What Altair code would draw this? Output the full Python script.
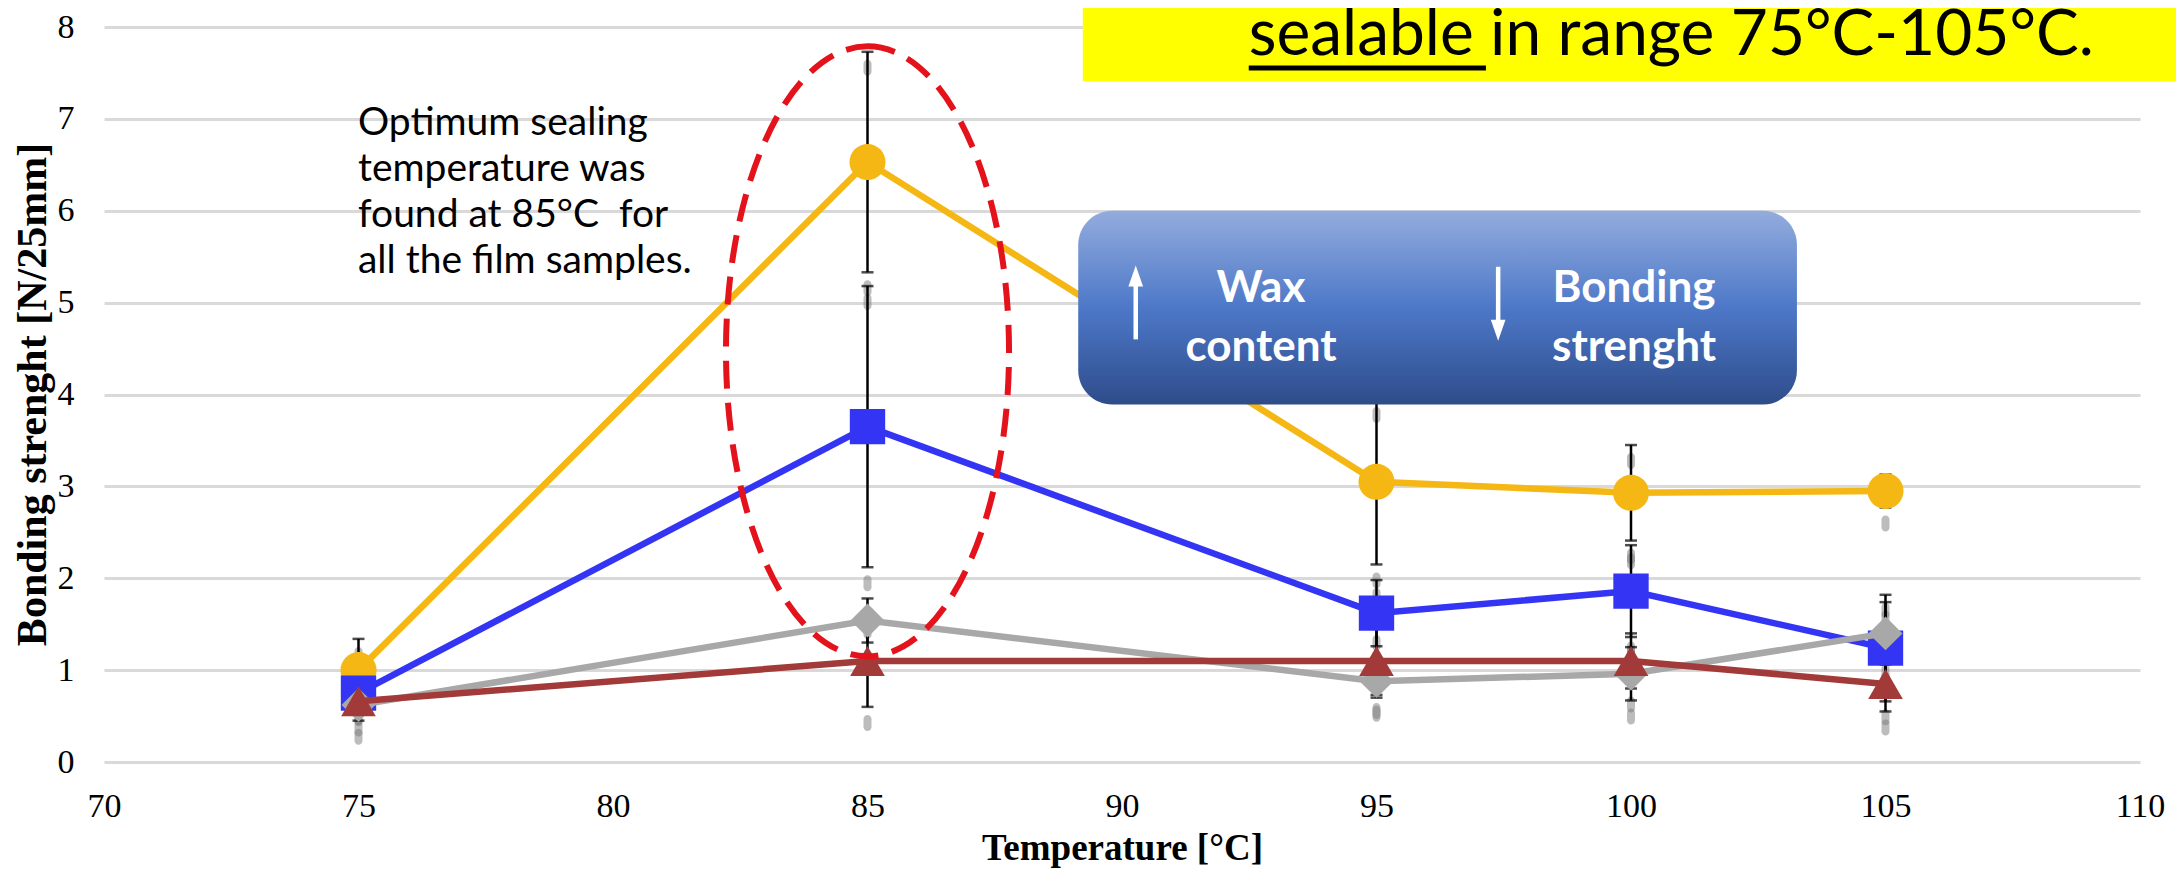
import altair as alt
import pandas as pd

# ---------------- data ----------------
temps = [75, 85, 95, 100, 105]
series_names = ["Film 1", "Film 2", "Film 3", "Film 4"]
vals_1 = [1.00, 6.53, 3.05, 2.93, 2.95]
err_1 = [0.34, 1.20, 0.90, 0.52, 0.18]
vals_2 = [0.75, 3.65, 1.62, 1.86, 1.24]
err_2 = [0.10, 1.53, 0.36, 0.50, 0.58]
vals_3 = [0.62, 1.54, 0.88, 0.96, 1.40]
err_3 = [0.17, 0.24, 0.18, 0.29, 0.34]
vals_4 = [0.66, 1.10, 1.10, 1.10, 0.85]
err_4 = [0.12, 0.50, 0.37, 0.30, 0.30]

x_ticks = [70, 75, 80, 85, 90, 95, 100, 105, 110]
y_ticks = [0, 1, 2, 3, 4, 5, 6, 7, 8]

# annotation texts
opt_lines = ["Optimum sealing", "temperature was", "found at 85\u00b0C\u00a0 for", "all the film samples."]
box_words = ["Wax", "content", "Bonding", "strenght"]
header_text = "sealable in range 75\u00b0C-105\u00b0C."

# annotation anchors (data space: temperature, strength)
box_t = [89.14, 103.26]
box_v = [3.89, 6.0]
word_t = [92.73, 92.73, 100.06, 100.06]
word_v = [5.15, 4.51, 5.15, 4.51]
arrow_up_t = [90.27]
arrow_up_v = [4.60, 5.25]
arrow_up_head_v = [5.29]
arrow_dn_t = [97.39]
arrow_dn_v = [5.39, 4.75]
arrow_dn_head_v = [4.70]
ellipse_center = [85.0, 4.47]
opt_anchor = [74.99, 6.82]
header_t = [89.23, 112.0]
header_v = [7.41, 8.7]
header_text_anchor = [92.49, 7.69]
underline_t = [92.49, 97.15]
underline_v = [7.555]

# ---------------- styles ----------------
colors = ["#F5B714", "#3434F4", "#A8A8A8", "#A23A3A"]
shapes = ["circle", "square", "diamond", "triangle-up"]
sizes = [1300, 1250, 1150, 1200]

rows = []
for name, vals, errs in zip(series_names, [vals_1, vals_2, vals_3, vals_4], [err_1, err_2, err_3, err_4]):
    for t, v, e in zip(temps, vals, errs):
        rows.append({"series": name, "temp": t, "value": v, "lo": v - e, "hi": v + e})
df = pd.DataFrame(rows)

xs = alt.Scale(domain=[70, 110], nice=False, zero=False)
ys = alt.Scale(domain=[0, 8], nice=False, zero=False)

x_axis = alt.Axis(values=x_ticks, title="Temperature [\u00b0C]", grid=False, ticks=False, domain=False,
                  labelFont="Liberation Serif", labelFontSize=34, labelPadding=27, labelColor="black",
                  labelFlush=False, labelOverlap=False,
                  titleFont="Liberation Serif", titleFontSize=37, titleFontWeight="bold", titleColor="black",
                  titleY=97, titleBaseline="alphabetic")
y_axis = alt.Axis(values=y_ticks, title="Bonding strenght [N/25mm]", grid=True, gridColor="#D9D9D9",
                  gridWidth=3, ticks=False, domain=False,
                  labelFont="Liberation Serif", labelFontSize=34, labelPadding=30, labelColor="black",
                  titleFont="Liberation Serif", titleFontSize=42, titleFontWeight="bold", titleColor="black",
                  titleX=-72, titleY=367, titleAngle=270, titleBaseline="middle", titleAlign="center")


def X(f):
    return alt.X(f, type="quantitative", scale=xs, axis=x_axis)


def Y(f):
    return alt.Y(f, type="quantitative", scale=ys, axis=y_axis)


layers = []

# soft shadows under the error-bar caps
for fld in ["lo", "hi"]:
    layers.append(alt.Chart(df).mark_tick(orient="vertical", color="#7A7A7A", size=16, thickness=8,
                                          opacity=0.5, yOffset=16, cornerRadius=4)
                  .encode(x=X("temp"), y=Y(fld)))

# error bars
layers.append(alt.Chart(df).mark_rule(color="black", strokeWidth=2.5).encode(x=X("temp"), y=Y("lo"), y2="hi"))
for fld in ["lo", "hi"]:
    layers.append(alt.Chart(df).mark_tick(orient="horizontal", color="black", size=12, thickness=2.5)
                  .encode(x=X("temp"), y=Y(fld)))

# series lines + markers
for i, name in enumerate(series_names):
    sub = df[df["series"] == name]
    layers.append(alt.Chart(sub).mark_line(color=colors[i], strokeWidth=6.5)
                  .encode(x=X("temp"), y=Y("value")))
    layers.append(alt.Chart(sub).mark_point(shape=shapes[i], filled=True, color=colors[i],
                                            size=sizes[i], opacity=1)
                  .encode(x=X("temp"), y=Y("value")))

# red dashed ellipse
ellipse_path = ("M0,-1C0.256,-1,0.464,-0.552,0.464,0C0.464,0.552,0.256,1,0,1"
                "C-0.256,1,-0.464,0.552,-0.464,0C-0.464,-0.552,-0.256,-1,0,-1Z")
ell_df = pd.DataFrame({"x": [ellipse_center[0]], "y": [ellipse_center[1]]})
layers.append(alt.Chart(ell_df).mark_point(shape=ellipse_path, size=610 * 610, filled=False,
                                           stroke="#E3121B", strokeWidth=6, strokeDash=[28, 14], opacity=1)
              .encode(x=X("x"), y=Y("y")))

# blue gradient box
box_df = pd.DataFrame({"x0": [box_t[0]], "x1": [box_t[1]], "y0": [box_v[0]], "y1": [box_v[1]]})
grad = alt.LinearGradient(gradient="linear",
                          stops=[alt.GradientStop(offset=0, color="#93ACDD"),
                                 alt.GradientStop(offset=0.5, color="#4D78C8"),
                                 alt.GradientStop(offset=1, color="#2E4C8A")],
                          x1=0, x2=0, y1=0, y2=1)
layers.append(alt.Chart(box_df).mark_rect(fill=grad, cornerRadius=34)
              .encode(x=X("x0"), x2="x1", y=Y("y0"), y2="y1"))

words_df = pd.DataFrame({"x": word_t, "y": word_v, "label": box_words})
layers.append(alt.Chart(words_df).mark_text(font="Lato", fontSize=44, fontWeight="bold", color="white",
                                            align="center", baseline="middle")
              .encode(x=X("x"), y=Y("y"), text="label:N"))

# arrows
up_df = pd.DataFrame({"x": arrow_up_t, "y0": [arrow_up_v[0]], "y1": [arrow_up_v[1]], "yh": arrow_up_head_v})
dn_df = pd.DataFrame({"x": arrow_dn_t, "y0": [arrow_dn_v[0]], "y1": [arrow_dn_v[1]], "yh": arrow_dn_head_v})
for adf, path in [(up_df, "M0,-1L0.7,1L-0.7,1Z"), (dn_df, "M0,1L0.7,-1L-0.7,-1Z")]:
    layers.append(alt.Chart(adf).mark_rule(color="white", strokeWidth=4.5)
                  .encode(x=X("x"), y=Y("y0"), y2="y1"))
    layers.append(alt.Chart(adf).mark_point(shape=path, filled=True, color="white", size=440, opacity=1)
                  .encode(x=X("x"), y=Y("yh")))

# optimum text
opt_df = pd.DataFrame({"x": [opt_anchor[0]], "y": [opt_anchor[1]]})
layers.append(alt.Chart(opt_df).mark_text(text=opt_lines, font="Lato", fontSize=39, color="black",
                                          align="left", baseline="alphabetic", lineHeight=46)
              .encode(x=X("x"), y=Y("y")))

# yellow header
hdr_df = pd.DataFrame({"x0": [header_t[0]], "x1": [header_t[1]], "y0": [header_v[0]], "y1": [header_v[1]]})
layers.append(alt.Chart(hdr_df).mark_rect(color="#FFFF00")
              .encode(x=X("x0"), x2="x1", y=Y("y0"), y2="y1"))
hdr_txt_df = pd.DataFrame({"x": [header_text_anchor[0]], "y": [header_text_anchor[1]]})
layers.append(alt.Chart(hdr_txt_df).mark_text(text=header_text, font="Lato", fontSize=64, color="black",
                                              align="left", baseline="alphabetic")
              .encode(x=X("x"), y=Y("y")))
ul_df = pd.DataFrame({"x0": [underline_t[0]], "x1": [underline_t[1]], "y": underline_v})
layers.append(alt.Chart(ul_df).mark_rule(color="black", strokeWidth=5)
              .encode(x=X("x0"), x2="x1", y=Y("y")))

chart = alt.layer(*layers).properties(
    width=2036, height=735,
    autosize=alt.AutoSizeParams(type="none"),
    padding={"left": 96, "top": 19, "right": 36, "bottom": 110},
    background="white",
).configure_view(strokeWidth=0)

chart.save("out.html", embed_options={"renderer": "svg", "actions": False})
